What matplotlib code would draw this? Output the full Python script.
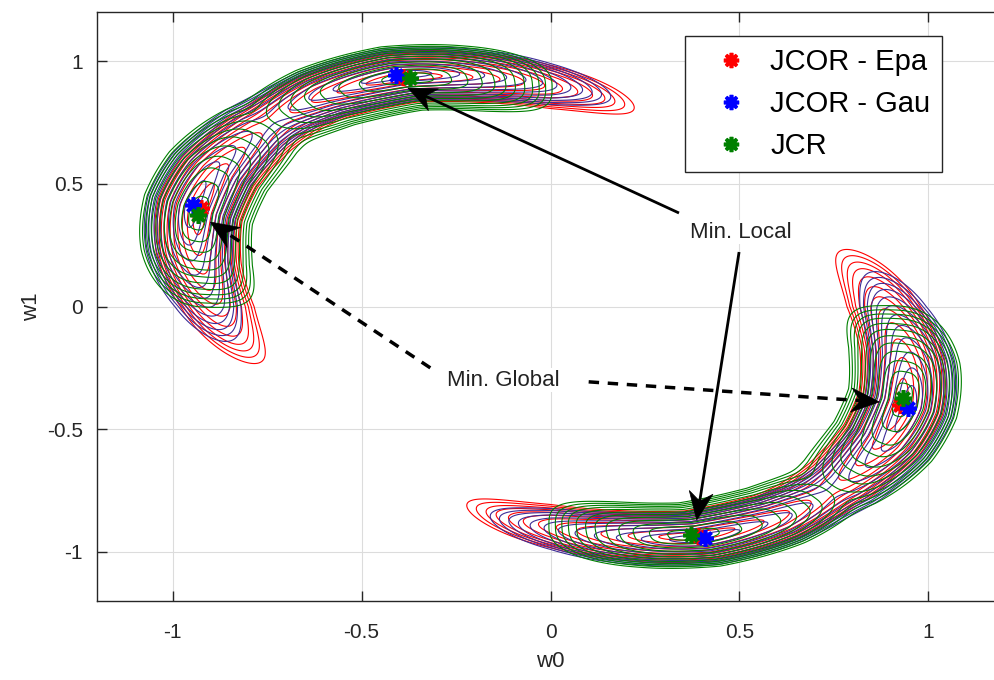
import numpy as np
import matplotlib
matplotlib.use("Agg")
import matplotlib.pyplot as plt
from matplotlib.lines import Line2D
from matplotlib.patches import Polygon

plt.rcParams['font.family'] = ['Liberation Sans', 'DejaVu Sans']

# centre line of the upper crescent, polar (deg -> radius); lower one is its mirror (w -> -w)
ridge_deg = [60, 75, 90, 102, 113, 125, 137, 148, 157, 168, 180, 196, 210]
ridge_r = [0.74, 0.81, 0.87, 0.93, 0.99, 1.02, 1.03, 1.02, 0.995, 0.94, 0.87, 0.80, 0.74]

methods = ['JCOR - Epa', 'JCOR - Gau', 'JCR']
line_colors = ['#ff0000', '#3d2c96', '#008000']
marker_colors = ['#ff0000', '#0000ff', '#008000']

# minima found by each method (upper arc: global, local)
min_global = [(-0.925, 0.40), (-0.947, 0.413), (-0.934, 0.373)]
min_local = [(-0.39, 0.935), (-0.408, 0.943), (-0.371, 0.931)]

# lobe shape per method: [deg towards smaller angle, deg towards larger angle, half width, exponent]
lobe_global = [(40, 40, 0.12, 2.0), (38, 33, 0.125, 2.0), (28, 22, 0.155, 3.0)]
lobe_local = [(38, 38, 0.11, 2.0), (34, 36, 0.115, 2.0), (22, 28, 0.14, 3.0)]

levels = [0.15, 0.27, 0.38, 0.48, 0.57, 0.65, 0.72, 0.79, 0.85, 0.9, 0.95, 1.0]

# annotations
local_text = (0.504, 0.303)
local_starts = [(0.34, 0.381), (0.499, 0.222)]
local_ends = [(-0.377, 0.89), (0.387, -0.87)]
global_text = (-0.125, -0.30)
global_starts = [(-0.318, -0.25), (0.101, -0.307)]
global_ends = [(-0.90, 0.344), (0.87, -0.389)]


def lobe(ang, rad, centre, shape):
    lo, hi, w, p = shape
    ck = np.degrees(np.arctan2(centre[1], centre[0])) % 360
    rk = np.hypot(centre[0], centre[1])
    off = rk - np.interp(ck, ridge_deg, ridge_r)
    d = rad - np.interp(ang, ridge_deg, ridge_r) - off
    da = ang - ck
    L = np.where(da < 0, lo, hi)
    return ((np.abs(d) / w) ** p + (np.abs(da) / L) ** p) ** (1.0 / p)


def field(X, Y, i):
    out = []
    for sx in (1, -1):
        ang = np.degrees(np.arctan2(sx * Y, sx * X)) % 360
        rad = np.hypot(X, Y)
        a = lobe(ang, rad, min_global[i], lobe_global[i])
        b = lobe(ang, rad, min_local[i], lobe_local[i])
        k = 20.0
        m = np.minimum(a, b)
        out.append(m - np.log(np.exp(-k * (a - m)) + np.exp(-k * (b - m))) / k)
    return np.minimum(out[0], out[1])


def arrow(ax, start, end, dashed):
    # line plus a notched head drawn in pixel space
    T = ax.transData
    p0 = T.transform(start)
    p1 = T.transform(end)
    u = (p1 - p0) / np.hypot(*(p1 - p0))
    n = np.array([-u[1], u[0]])
    hl, hw, notch = 28, 12, 9
    back = p1 - u * hl
    head = np.array([p1, back + n * hw, p1 - u * (hl - notch), back - n * hw])
    line_end = T.inverted().transform(p1 - u * (hl - notch))
    ax.plot([start[0], line_end[0]], [start[1], line_end[1]], color='black',
            lw=2.5 if dashed else 2, ls=(0, (3, 2.5)) if dashed else '-',
            solid_capstyle='butt', dash_capstyle='butt', zorder=6)
    ax.add_patch(Polygon(T.inverted().transform(head), closed=True, fc='black', ec='black',
                         lw=0.5, zorder=6))


x = np.linspace(-1.2, 1.2, 600)
X, Y = np.meshgrid(x, x)

fig = plt.figure(figsize=(9.94, 6.8), dpi=100)
ax = fig.add_axes([97 / 994, 79 / 680, 907 / 994, 589 / 680])
ax.set_xlim(-1.2, 1.2)
ax.set_ylim(-1.2, 1.2)

for i in range(3):
    ax.contour(X, Y, field(X, Y, i), levels=levels, colors=line_colors[i], linewidths=0.8)

for i in range(3):
    pts = np.array([min_global[i], min_local[i]])
    pts = np.vstack([pts, -pts])
    ax.plot(pts[:, 0], pts[:, 1], ls='none', marker=(8, 2, 0), ms=12, mew=2.6,
            color=marker_colors[i], zorder=5)

for s, e in zip(local_starts, local_ends):
    arrow(ax, s, e, False)
for s, e in zip(global_starts, global_ends):
    arrow(ax, s, e, True)
ax.text(*local_text, 'Min. Local', ha='center', va='center', fontsize=16, color='#222222',
        bbox=dict(fc='white', ec='none', pad=1), zorder=7)
ax.text(*global_text, 'Min. Global', ha='center', va='center', fontsize=16, color='#222222',
        bbox=dict(fc='white', ec='none', pad=1), zorder=7)

ticks = [-1, -0.5, 0, 0.5, 1]
ax.set_xticks(ticks)
ax.set_yticks(ticks)
ax.set_xticklabels(['-1', '-0.5', '0', '0.5', '1'])
ax.set_yticklabels(['-1', '-0.5', '0', '0.5', '1'])
ax.tick_params(direction='in', length=7, width=1, colors='#262626', labelsize=15,
               top=True, right=True)
ax.tick_params(axis='x', pad=16)
ax.tick_params(axis='y', pad=10)
ax.grid(True, color='#dcdcdc', lw=0.8)
ax.set_axisbelow(True)
for sp in ax.spines.values():
    sp.set_color('#262626')
    sp.set_linewidth(1)
ax.set_xlabel('w0', fontsize=16, color='#262626', labelpad=6)
ax.set_ylabel('w1', fontsize=16, color='#262626', labelpad=4)

handles = [Line2D([], [], ls='none', marker=(8, 2, 0), ms=11, mew=2.6, color=c) for c in marker_colors]
leg = ax.legend(handles, methods, loc='upper right', bbox_to_anchor=(0.9317, 0.959),
                borderaxespad=0, fontsize=21, frameon=True, fancybox=False, framealpha=1,
                edgecolor='#262626', handletextpad=0.16, labelspacing=0.49, borderpad=0.4,
                handlelength=2.35)
leg.get_frame().set_linewidth(1)
leg.set_zorder(10)

fig.savefig('out.png', dpi=100)
